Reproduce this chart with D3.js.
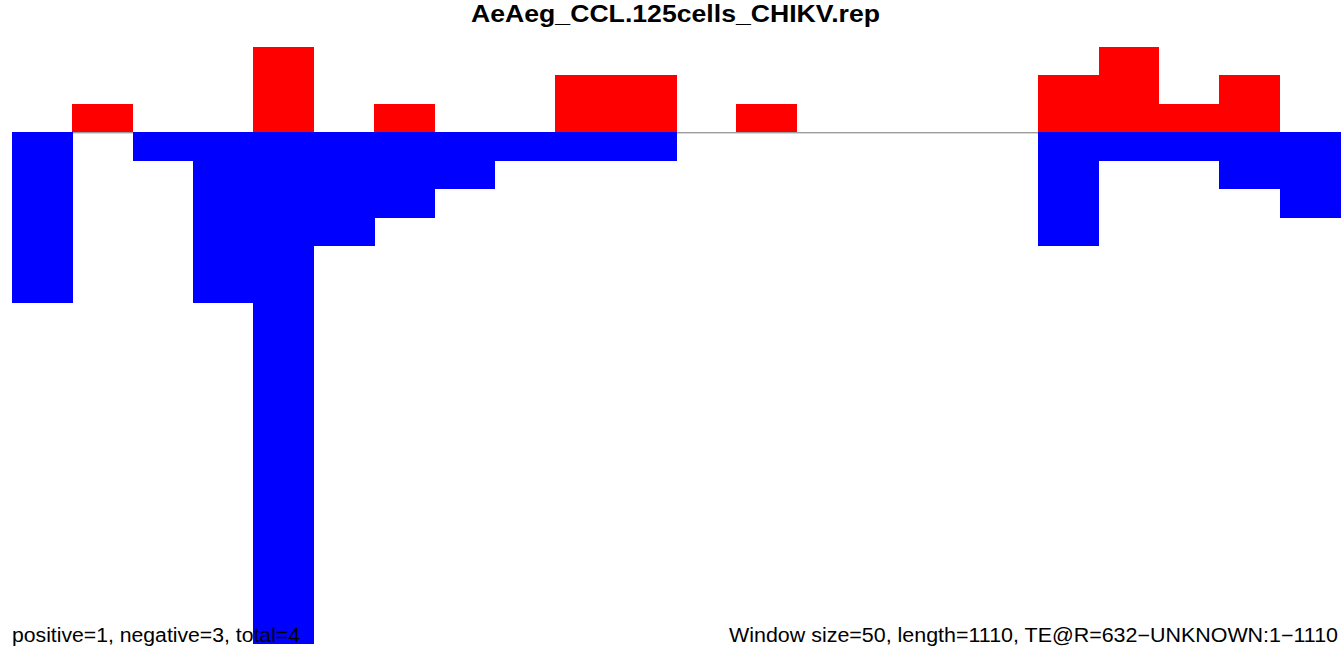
<!DOCTYPE html>
<html><head><meta charset="utf-8">
<script src="https://cdn.jsdelivr.net/npm/d3@7"></script>
<style>html,body{margin:0;padding:0;background:#fff;}svg{display:block;}</style>
</head><body>
<svg id="c" width="1341" height="649"></svg>
<script>
const title = "AeAeg_CCL.125cells_CHIKV.rep";
const windows = d3.range(22);
const positive = [0,1,0,0,3,0,1,0,0,2,2,0,1,0,0,0,0,2,3,1,2,0];
const negative = [6,0,1,6,18,4,3,2,1,1,1,0,0,0,0,0,0,4,1,1,2,3];
const leftNote = "positive=1, negative=3, total=4";
const rightNote = "Window size=50, length=1110, TE@R=632\u2212UNKNOWN:1\u22121110";

const svg = d3.select("#c");
const x = d3.scaleBand().domain(windows).range([12, 1340]).padding(0);
const y = d3.scaleLinear().domain([3, -18]).range([47, 644]);

svg.append("line").attr("x1", 12).attr("x2", 1340)
  .attr("y1", y(0) + 0.5).attr("y2", y(0) + 0.5).attr("stroke", "#777").attr("stroke-width", 1);

svg.append("g").attr("shape-rendering", "crispEdges")
  .selectAll("rect").data(windows.filter(i => positive[i] > 0)).join("rect")
  .attr("x", i => x(i)).attr("width", x.bandwidth() + 0.5)
  .attr("y", i => y(positive[i])).attr("height", i => y(0) - y(positive[i]))
  .attr("fill", "#ff0000");
svg.append("g").attr("shape-rendering", "crispEdges")
  .selectAll("rect").data(windows.filter(i => negative[i] > 0)).join("rect")
  .attr("x", i => x(i)).attr("width", x.bandwidth() + 0.5)
  .attr("y", y(0)).attr("height", i => y(-negative[i]) - y(0))
  .attr("fill", "#0000ff");

const ff = "Liberation Sans, Arial, Helvetica, sans-serif";
svg.append("text").attr("x", 471).attr("y", 22)
  .attr("font-family", ff).attr("font-weight", "bold")
  .attr("font-size", 24.5).attr("textLength", 409).attr("lengthAdjust", "spacingAndGlyphs").text(title);
svg.append("text").attr("x", 12).attr("y", 642)
  .attr("font-family", ff).attr("font-size", 19.5)
  .attr("textLength", 288).attr("lengthAdjust", "spacingAndGlyphs").text(leftNote);
svg.append("text").attr("x", 729).attr("y", 642)
  .attr("font-family", ff).attr("font-size", 19.5)
  .attr("textLength", 609).attr("lengthAdjust", "spacingAndGlyphs").text(rightNote);
</script>
</body></html>
